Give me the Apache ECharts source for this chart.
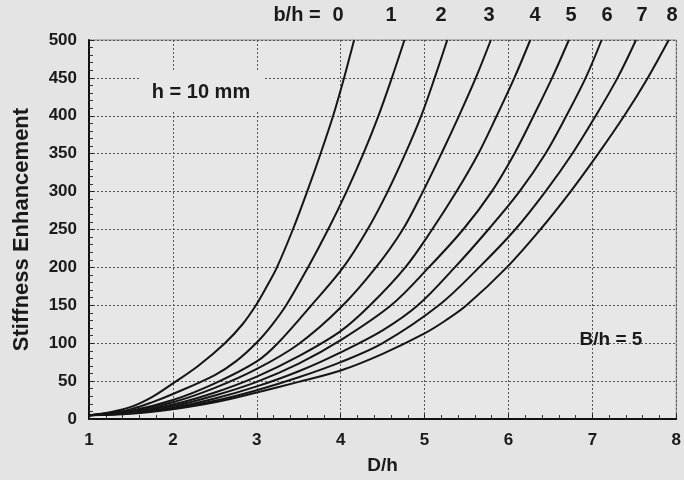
<!DOCTYPE html>
<html>
<head>
<meta charset="utf-8">
<script src="https://cdn.jsdelivr.net/npm/echarts@6/dist/echarts.min.js"></script>
<style>
  html, body { margin: 0; padding: 0; background: #e3e4e3; }
  #chart { width: 684px; height: 480px; }
</style>
</head>
<body>
<div id="chart"></div>
<script>
// curves: [D/h, stiffness enhancement], one per b/h
const bh0 = [[1,5],[1.25,9],[1.5,16],[1.75,29],[2,47],[2.3,70],[2.62,100],[2.83,125],[2.99,150],[3.12,175],[3.24,200],[3.43,250],[3.6,300],[3.76,350],[3.91,400],[4.04,450],[4.16,500]];
const bh1 = [[1,5],[1.25,8],[1.5,13],[1.75,22],[2,33],[2.5,58],[2.75,76],[3,101],[3.18,124],[3.35,150],[3.61,200],[3.85,250],[4.07,300],[4.27,350],[4.45,400],[4.61,450],[4.76,500]];
const bh2 = [[1,5],[1.5,11],[2,25],[2.5,47],[3,76],[3.25,100],[3.65,150],[4.03,200],[4.32,250],[4.56,300],[4.77,350],[4.96,400],[5.12,450],[5.27,500]];
const bh3 = [[1,5],[1.5,10],[2,22],[2.5,41],[3,66],[3.5,99],[4,147],[4.42,200],[4.74,250],[4.98,300],[5.2,350],[5.41,400],[5.61,450],[5.79,500]];
const bh4 = [[1,5],[1.5,9],[2,19],[2.5,35],[3,56],[3.5,83],[4,116],[4.35,150],[4.77,200],[5.09,250],[5.38,300],[5.64,350],[5.86,400],[6.07,450],[6.26,500]];
const bh5 = [[1,5],[1.5,9],[2,17],[2.5,31],[3,49],[3.5,73],[4,104],[4.6,150],[5.05,200],[5.46,250],[5.8,300],[6.07,350],[6.3,400],[6.52,450],[6.72,500]];
const bh6 = [[1,5],[1.5,8],[2,15],[2.5,27],[3,43],[3.5,63],[4,88],[4.5,117],[4.92,150],[5.36,200],[5.76,250],[6.13,300],[6.44,350],[6.69,400],[6.92,450],[7.11,500]];
const bh7 = [[1,5],[1.5,8],[2,14],[2.5,24],[3,38],[3.5,55],[4,75],[4.5,100],[5.17,150],[5.65,200],[6.08,250],[6.44,300],[6.76,350],[7.04,400],[7.3,450],[7.52,500]];
const bh8 = [[1,5],[1.5,7],[2,13],[2.5,22],[3,35],[3.5,49],[4,64],[4.5,86],[5,113],[5.25,130],[5.5,150],[5.98,200],[6.38,250],[6.74,300],[7.07,350],[7.38,400],[7.66,450],[7.91,500]];

const curves = [bh0, bh1, bh2, bh3, bh4, bh5, bh6, bh7, bh8];
const bhLabels = ['0', '1', '2', '3', '4', '5', '6', '7', '8'];
const labelX = [338, 391, 441, 489, 535, 571, 607, 642, 672]; // where the b/h numbers sit

const font = '"Liberation Sans", Arial, sans-serif';
const bg = '#e3e4e3';

const chart = echarts.init(document.getElementById('chart'));

const topText = bhLabels.map((t, i) => ({
  type: 'text',
  x: labelX[i], y: 15,
  z: 100,
  style: { text: t, font: 'bold 20px ' + font, fill: '#1a1a1a', align: 'center', verticalAlign: 'middle' }
}));

const option = {
  backgroundColor: bg,
  animation: false,
  grid: {
    left: 89, right: 6, top: 40, bottom: 57,
    show: true, backgroundColor: '#e6e7e6', borderColor: '#8a8a8a', borderWidth: 1
  },
  xAxis: {
    type: 'value', min: 1, max: 8, interval: 1,
    name: 'D/h', nameLocation: 'middle', nameGap: 37,
    nameTextStyle: { fontFamily: font, fontWeight: 'bold', fontSize: 19, color: '#1a1a1a' },
    axisLine: { show: true, lineStyle: { color: '#111', width: 2 } },
    axisTick: { show: true, inside: true, length: 5, lineStyle: { color: '#222' } },
    minorTick: { show: true, splitNumber: 5, length: 4, lineStyle: { color: '#333' } },
    axisLabel: { margin: 13, fontFamily: font, fontWeight: 'bold', fontSize: 17, color: '#1a1a1a' },
    splitLine: { show: true, lineStyle: { color: '#555', type: [2, 2], width: 1 } }
  },
  yAxis: {
    type: 'value', min: 0, max: 500, interval: 50,
    name: 'Stiffness Enhancement', nameLocation: 'middle', nameGap: 56, nameRotate: 90,
    nameTextStyle: { fontFamily: font, fontWeight: 'bold', fontSize: 22, color: '#1a1a1a' },
    axisLine: { show: true, lineStyle: { color: '#111', width: 2 } },
    axisTick: { show: true, inside: true, length: 5, lineStyle: { color: '#222' } },
    minorTick: { show: true, splitNumber: 5, length: 4, lineStyle: { color: '#333' } },
    axisLabel: { margin: 12, fontFamily: font, fontWeight: 'bold', fontSize: 17, color: '#1a1a1a' },
    splitLine: { show: true, lineStyle: { color: '#555', type: [2, 2], width: 1 } }
  },
  graphic: [
    // box behind "h = 10 mm" hides the grid lines there
    { type: 'rect', z: 99, shape: { x: 140, y: 72, width: 123, height: 38 }, style: { fill: '#e6e7e6' } },
    { type: 'text', z: 100, x: 201, y: 92,
      style: { text: 'h = 10 mm', font: 'bold 20px ' + font, fill: '#1a1a1a', align: 'center', verticalAlign: 'middle' } },
    { type: 'text', z: 100, x: 611, y: 340,
      style: { text: 'B/h = 5', font: 'bold 19px ' + font, fill: '#1a1a1a', align: 'center', verticalAlign: 'middle' } },
    { type: 'text', z: 100, x: 297, y: 15,
      style: { text: 'b/h =', font: 'bold 20px ' + font, fill: '#1a1a1a', align: 'center', verticalAlign: 'middle' } }
  ].concat(topText),
  series: curves.map((d, i) => ({
    name: 'b/h = ' + bhLabels[i],
    type: 'line',
    data: d,
    showSymbol: false,
    smooth: 0.35,
    clip: true,
    lineStyle: { color: '#151515', width: 2 }
  }))
};

chart.setOption(option);
</script>
</body>
</html>
